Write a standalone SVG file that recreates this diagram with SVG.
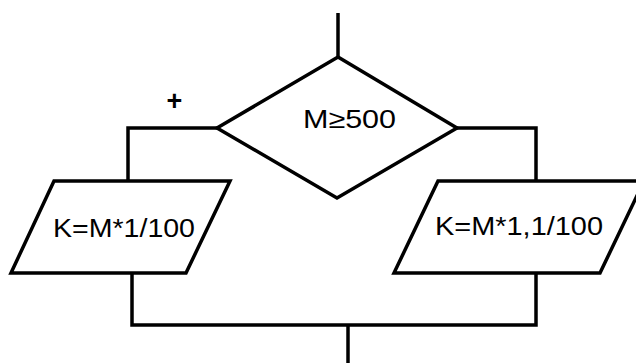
<svg xmlns="http://www.w3.org/2000/svg" width="636" height="363" viewBox="0 0 636 363">
<style>
.s{fill:none;stroke:#000;stroke-width:3.5;stroke-linejoin:miter}
.sh{fill:#fff;stroke:#000;stroke-width:3.5}
.t{font-family:"Liberation Sans",Arial,sans-serif;font-size:26px;fill:#000}
</style>
<rect width="636" height="363" fill="#fff"/>
<g id="connectors">
<path class="s" d="M338,13 V57"/>
<path class="s" d="M217,128 H128 V181"/>
<path class="s" d="M457,128 H536 V181"/>
<path class="s" d="M132,273 V325 H536 V273"/>
<path class="s" d="M348,325 V363"/>
</g>
<g id="decision">
<polygon class="sh" points="338,57 457,128 337,198 217,128"/>
<text class="t" x="303" y="128" textLength="93" lengthAdjust="spacingAndGlyphs">M≥500</text>
</g>
<g id="label-plus">
<text x="174.5" y="109.5" text-anchor="middle" style="font-family:'Liberation Sans',Arial,sans-serif;font-size:27px;font-weight:bold">+</text>
</g>
<g id="left-io">
<polygon class="sh" points="54,181 230,181 186,273 11,273"/>
<text class="t" x="53" y="237" textLength="142" lengthAdjust="spacingAndGlyphs">K=M*1/100</text>
</g>
<g id="right-io">
<polygon class="sh" points="438,181 644,181 600,273 394,273"/>
<text class="t" x="435" y="235" textLength="168" lengthAdjust="spacingAndGlyphs">K=M*1,1/100</text>
</g>
</svg>
